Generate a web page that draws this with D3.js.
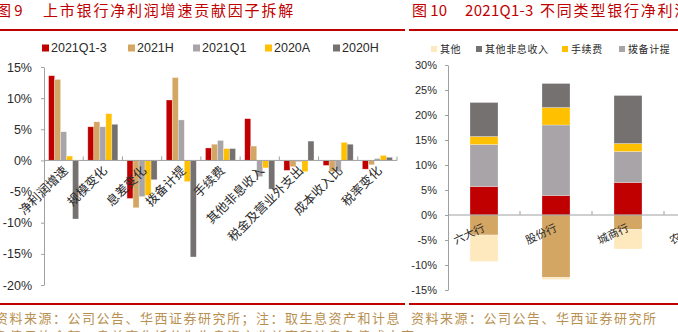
<!DOCTYPE html>
<html>
<head>
<meta charset="utf-8">
<script src="https://cdn.jsdelivr.net/npm/d3@7"></script>
<style>
  body { margin: 0; background: #fff; }
  svg { display: block; }
  text { font-family: "Liberation Sans", Arial, sans-serif; }
  .cn { font-family: "Noto Sans CJK SC", sans-serif; }
</style>
</head>
<body>
<div id="container"></div>
<script>
// 图9: contribution of each factor to net profit growth (%)
const factorNames = ['净利润增速', '规模变化', '息差变化', '拨备计提', '手续费', '其他非息收入', '税金及营业外支出', '成本收入比', '税率变化'];
const periodNames = ['2021Q1-3', '2021H', '2021Q1', '2020A', '2020H'];
const v2021Q1_3 = [13.6, 5.4, -6.1, 9.7, 2.0, 6.7, -1.6, -0.8, -1.4];
const v2021H = [13.0, 6.2, -7.6, 13.3, 2.6, 2.3, -1.0, -1.8, -0.7];
const v2021Q1 = [4.6, 5.4, -5.8, 6.5, 3.2, -2.6, -0.2, -1.8, 0.3];
const v2020A = [0.7, 7.5, -5.6, -3.4, 1.9, -1.2, -1.8, 2.9, 0.8];
const v2020H = [-9.4, 5.8, -3.1, -15.5, 1.9, -4.6, 3.1, 2.6, 0.5];
const leftTicks = [-20, -15, -10, -5, 0, 5, 10, 15];

// 图10: 2021Q1-3 by bank type (%), no bars for 农商行 in view
const bankTypes = ['六大行', '股份行', '城商行', '农商行'];
const scaleChg = [5.7, 3.9, 6.5];
const marginChg = [-4.0, -12.5, -2.9];
const provision = [8.4, 14.1, 6.2];
const feeIncome = [1.6, 3.5, 1.6];
const otherNonInterest = [6.8, 4.8, 9.6];
const otherItems = [-5.3, -0.4, -3.9];
const rightTicks = [-15, -10, -5, 0, 5, 10, 15, 20, 25, 30];

const red = '#c00000', tan = '#d4a664', gray = '#a8a4a7', yellow = '#ffc000', dark = '#767171', pale = '#fde9bd';
const periodColors = [red, tan, gray, yellow, dark];
const axisColor = '#a0a0a0';
const noteColor = '#b89050';
const labelColor = '#2a2a2a';

const W = 678, H = 332;
const svg = d3.select('#container').append('svg')
  .attr('width', W).attr('height', H);

// ---- headers and footers ----
function titleText(x, str, spacing) {
  svg.append('text').attr('class', 'cn').attr('x', x).attr('y', 16)
    .attr('fill', red).attr('font-size', 15).attr('letter-spacing', spacing).text(str);
}
titleText(-4, '图 9', 0);
titleText(43, '上市银行净利润增速贡献因子拆解', 1.8);
titleText(412, '图 10', 0);
titleText(465, '2021Q1-3', 0.3);
titleText(540, '不同类型银行净利润增速贡献因子拆解', 1.8);

[[0, 405], [409, W]].forEach(([a, b]) => {
  svg.append('rect').attr('x', a).attr('y', 29).attr('width', b - a).attr('height', 2).attr('fill', red);
  svg.append('rect').attr('x', a).attr('y', 303).attr('width', b - a).attr('height', 2).attr('fill', red);
});

function note(x, y, str) {
  svg.append('text').attr('class', 'cn').attr('x', x).attr('y', y).attr('fill', noteColor)
    .attr('font-size', 13).attr('letter-spacing', 1.5).text(str);
}
note(-5, 323, '资料来源：公司公告、华西证券研究所；注：取生息资产和计息');
note(-5, 341, '负债日均余额，息差变化拆分为生息资产收益率和计息负债成本率');
note(411, 323, '资料来源：公司公告、华西证券研究所');

// ---- left chart ----
const leftRows = factorNames.map((name, i) => ({
  name,
  values: [v2021Q1_3[i], v2021H[i], v2021Q1[i], v2020A[i], v2020H[i]]
}));

const xL = d3.scaleBand().domain(factorNames).range([44, 397]);
const bwL = xL.bandwidth();
const xInner = d3.scaleBand().domain(periodNames).range([4.6, bwL - 4.6]);
const yL = d3.scaleLinear().domain([-20, 15]).range([285, 67]);

// legend
const legL = svg.append('g').attr('transform', 'translate(0,48)');
const legX = [42, 128, 193, 265, 333];
periodNames.forEach((p, i) => {
  legL.append('rect').attr('x', legX[i]).attr('y', -3.5).attr('width', 7).attr('height', 7).attr('fill', periodColors[i]);
  legL.append('text').attr('x', legX[i] + 9).attr('y', 0).attr('dy', '0.35em')
    .attr('font-size', 12.5).attr('fill', labelColor).text(p);
});

const yAxisL = svg.append('g').attr('transform', 'translate(44,0)')
  .call(d3.axisLeft(yL).tickValues(leftTicks).tickFormat(d => d + '%').tickSize(3).tickSizeOuter(0).tickPadding(9));
yAxisL.select('.domain').attr('stroke', axisColor);
yAxisL.selectAll('.tick line').attr('stroke', axisColor);
yAxisL.selectAll('.tick text').attr('font-size', 12.5).attr('fill', labelColor).attr('font-family', '"Liberation Sans", Arial, sans-serif');

const groupsL = svg.selectAll('.factor').data(leftRows).enter().append('g')
  .attr('class', 'factor')
  .attr('transform', d => 'translate(' + xL(d.name) + ',0)');
groupsL.selectAll('rect').data(d => d.values.map((v, i) => ({ v, p: periodNames[i], c: periodColors[i] })))
  .enter().append('rect')
  .attr('x', d => xInner(d.p))
  .attr('width', xInner.bandwidth())
  .attr('y', d => yL(Math.max(0, d.v)))
  .attr('height', d => Math.abs(yL(d.v) - yL(0)))
  .attr('fill', d => d.c)
  .attr('stroke', '#fff').attr('stroke-opacity', 0.45).attr('stroke-width', 0.6);

// zero line with category separators
const y0L = yL(0);
svg.append('line').attr('x1', 44).attr('x2', 397).attr('y1', y0L).attr('y2', y0L).attr('stroke', axisColor);
svg.selectAll('.sepL').data(d3.range(1, factorNames.length + 1)).enter().append('line')
  .attr('x1', i => 44 + i * xL.step()).attr('x2', i => 44 + i * xL.step())
  .attr('y1', y0L - 4).attr('y2', y0L).attr('stroke', axisColor);

svg.selectAll('.labL').data(factorNames).enter().append('text')
  .attr('class', 'cn')
  .attr('text-anchor', 'end')
  .attr('font-size', 12.5)
  .attr('fill', labelColor)
  .attr('dy', '0.35em')
  .attr('transform', d => 'translate(' + (xL(d) + bwL / 2 + 2) + ',' + (y0L + 8) + ') rotate(-45)')
  .text(d => d);

// ---- right chart ----
const stackKeys = ['规模变化', '息差变化', '拨备计提', '手续费', '其他非息收入', '其他'];
const stackColors = { '规模变化': red, '息差变化': tan, '拨备计提': gray, '手续费': yellow, '其他非息收入': dark, '其他': pale };
const stackSeries = [scaleChg, marginChg, provision, feeIncome, otherNonInterest, otherItems];
const rightRows = scaleChg.map((_, i) => {
  const row = { bank: bankTypes[i] };
  stackKeys.forEach((k, j) => { row[k] = stackSeries[j][i]; });
  return row;
});
const stacked = d3.stack().keys(stackKeys).offset(d3.stackOffsetDiverging)(rightRows);

const xR = d3.scaleBand().domain(bankTypes).range([448, 448 + 72 * bankTypes.length])
  .paddingInner(0.611).paddingOuter(0.3055);
const yR = d3.scaleLinear().domain([-15, 30]).range([290, 65]);

const legendOrder = ['其他', '其他非息收入', '手续费', '拨备计提', '息差变化', '规模变化'];
const legRX = [431, 476, 562, 619, 686, 752];
const legR = svg.append('g').attr('transform', 'translate(0,49)');
legendOrder.forEach((k, i) => {
  legR.append('rect').attr('x', legRX[i]).attr('y', -3).attr('width', 6).attr('height', 6).attr('fill', stackColors[k]);
  legR.append('text').attr('class', 'cn').attr('x', legRX[i] + 9).attr('y', 0).attr('dy', '0.35em')
    .attr('font-size', 10).attr('letter-spacing', 0.6).attr('fill', labelColor).text(k);
});

const yAxisR = svg.append('g').attr('transform', 'translate(448,0)')
  .call(d3.axisLeft(yR).tickValues(rightTicks).tickFormat(d => d + '%').tickSize(3).tickSizeOuter(0).tickPadding(8));
yAxisR.select('.domain').attr('stroke', axisColor);
yAxisR.selectAll('.tick line').attr('stroke', axisColor);
yAxisR.selectAll('.tick text').attr('font-size', 11).attr('fill', labelColor).attr('font-family', '"Liberation Sans", Arial, sans-serif');

svg.selectAll('.layer').data(stacked).enter().append('g')
  .attr('class', 'layer')
  .attr('fill', d => stackColors[d.key])
  .selectAll('rect').data(d => d).enter().append('rect')
  .attr('x', d => xR(d.data.bank))
  .attr('width', xR.bandwidth())
  .attr('y', d => yR(d[1]))
  .attr('height', d => yR(d[0]) - yR(d[1]))
  .attr('stroke', '#fff').attr('stroke-opacity', 0.45).attr('stroke-width', 0.6);

const y0R = yR(0);
svg.append('line').attr('x1', 448).attr('x2', W).attr('y1', y0R).attr('y2', y0R).attr('stroke', axisColor);
svg.selectAll('.sepR').data(d3.range(1, bankTypes.length + 1)).enter().append('line')
  .attr('x1', i => 448 + i * xR.step()).attr('x2', i => 448 + i * xR.step())
  .attr('y1', y0R - 4).attr('y2', y0R).attr('stroke', axisColor);

svg.selectAll('.labR').data(bankTypes).enter().append('text')
  .attr('class', 'cn')
  .attr('text-anchor', 'end')
  .attr('font-size', 11)
  .attr('fill', labelColor)
  .attr('dy', '0.35em')
  .attr('transform', d => 'translate(' + (xR(d) + xR.bandwidth() / 2) + ',' + (y0R + 12) + ') rotate(-25)')
  .text(d => d);
</script>
</body>
</html>
